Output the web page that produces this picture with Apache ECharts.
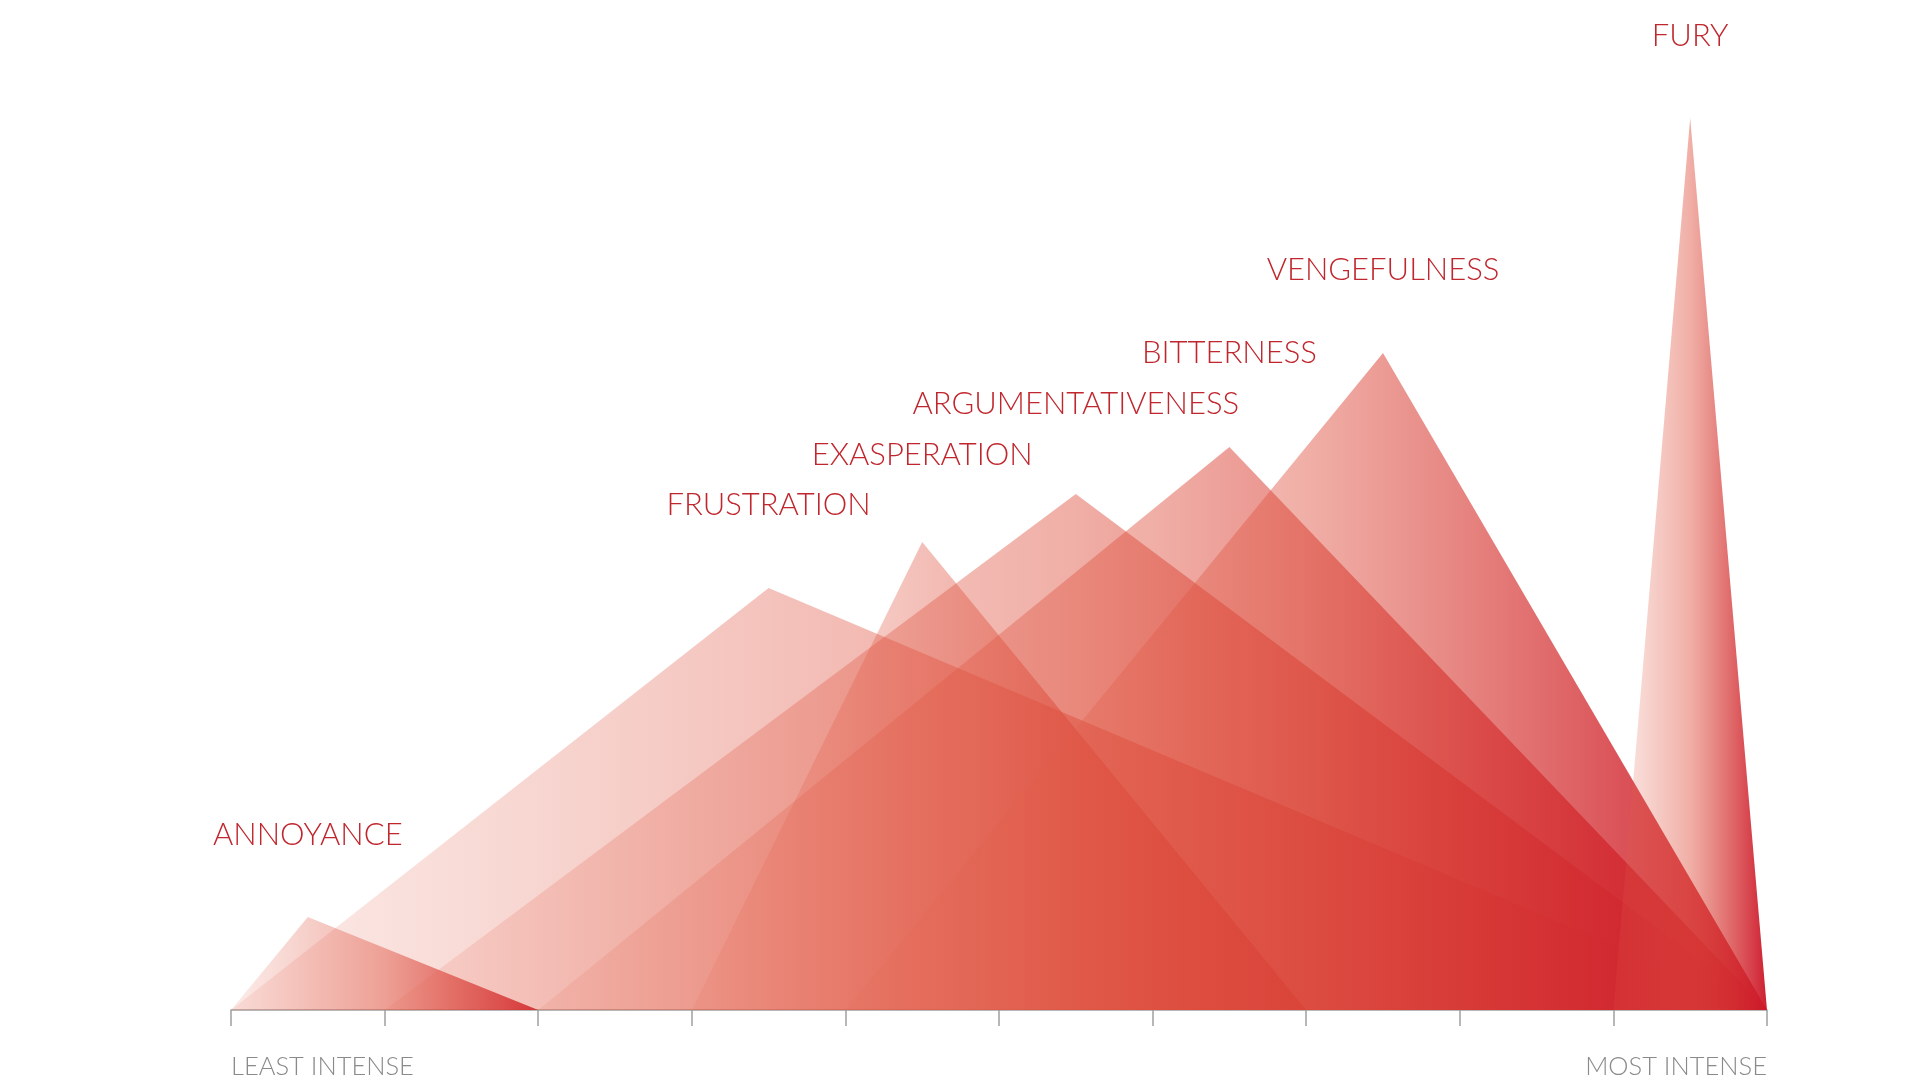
<!DOCTYPE html>
<html>
<head>
<meta charset="utf-8">
<script src="https://cdn.jsdelivr.net/npm/echarts@6/dist/echarts.min.js"></script>
<style>
html,body{margin:0;padding:0;background:#fff;}
#chart{width:1920px;height:1080px;}
</style>
</head>
<body>
<div id="chart"></div>
<script>
// ---- data ----
const categories = ['ANNOYANCE','FRUSTRATION','EXASPERATION','ARGUMENTATIVENESS','BITTERNESS','VENGEFULNESS','FURY'];
const startX = [0, 0, 3, 1, 2, 4, 9];
const peakX  = [0.5, 3.5, 4.5, 5.5, 6.5, 7.5, 9.5];
const peakY  = [9.3, 42.2, 46.8, 51.6, 56.3, 65.7, 89.2];
const endX   = [2, 10, 7, 10, 10, 10, 10];
const tickValues = [0,1,2,3,4,5,6,7,8,9,10];
const endLabels = ['LEAST INTENSE', 'MOST INTENSE'];

// ---- styles ----
const labelGap = [82, 83, 87, 90, 94, 83, 82];
const labelFontSize = 31;

const chart = echarts.init(document.getElementById('chart'), null, {renderer:'canvas'});

const series = categories.map((name, i) => ({
  type: 'line',
  name: name,
  data: [
    [startX[i], 0],
    {value: [peakX[i], peakY[i]], label: {show: true, formatter: name}},
    [endX[i], 0]
  ],
  symbol: 'circle',
  symbolSize: 1,
  showSymbol: true,
  itemStyle: {color: 'rgba(0,0,0,0)'},
  lineStyle: {width: 0, opacity: 0},
  label: {
    show: false,
    position: 'top',
    distance: labelGap[i] - labelFontSize / 2,
    color: '#c0262d',
    fontFamily: 'Lato',
    fontWeight: 300,
    fontSize: labelFontSize
  },
  areaStyle: {
    opacity: 1,
    color: new echarts.graphic.LinearGradient(0, 0, 1, 0, [
      {offset: 0, color: 'rgba(228,100,78,0.12)'},
      {offset: 0.5, color: 'rgba(222,80,62,0.46)'},
      {offset: 1, color: 'rgba(204,24,42,0.97)'}
    ])
  },
  emphasis: {disabled: true},
  silent: true,
  z: 2 + i
}));

chart.setOption({
  animation: false,
  backgroundColor: '#ffffff',
  grid: {left: 231, right: 153, top: 10, bottom: 70, containLabel: false},
  xAxis: {
    type: 'value',
    min: 0, max: 10, interval: 1,
    splitLine: {show: false},
    axisLine: {show: true, onZero: false, lineStyle: {color: '#a0a0a0', width: 1.5}},
    axisTick: {show: true, length: 16, lineStyle: {color: '#a0a0a0', width: 1.5}},
    axisLabel: {
      show: true,
      margin: 44,
      color: '#8a8a8a',
      fontFamily: 'Lato',
      fontWeight: 300,
      fontSize: 25.5,
      alignMinLabel: 'left',
      alignMaxLabel: 'right',
      formatter: function (v) {
        if (v === tickValues[0]) return endLabels[0];
        if (v === tickValues[tickValues.length - 1]) return endLabels[1];
        return '';
      }
    }
  },
  yAxis: {
    type: 'value', min: 0, max: 100,
    show: false,
    splitLine: {show: false}
  },
  series: series
});
</script>
</body>
</html>
